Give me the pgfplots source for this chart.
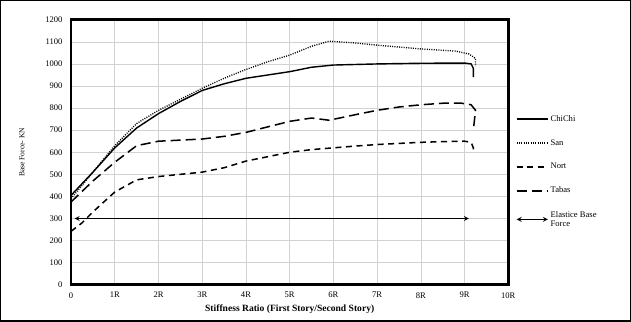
\documentclass[border=0pt]{standalone}
\usepackage{pgfplots}
\pgfplotsset{compat=1.18}
\usepackage{fontspec}
\setmainfont{Liberation Serif}
\begin{document}
\begin{tikzpicture}
\begin{axis}[
  scale only axis, width=434pt, height=263pt,
  xmin=0, xmax=10, ymin=0, ymax=1200,
  xtick={0,1,...,10},
  xticklabels={0,1R,2R,3R,4R,5R,6R,7R,8R,9R,10R},
  ytick={0,100,...,1200},
  /pgf/number format/assume math mode=true,
  /pgf/number format/1000 sep={},
  tick label style={font=\fontsize{8.5}{9}\selectfont},
  xticklabel style={yshift=-4pt},
  yticklabel style={xshift=-5pt},
  major tick length=0pt,
  grid=major, grid style={gray!35, line width=0.7pt},
  axis line style={line width=2pt},
  xlabel={\textbf{Stiffness Ratio (First Story/Second Story)}},
  xlabel style={font=\fontsize{9.5}{10}\selectfont, yshift=0pt},
  ylabel={Base Force- KN},
  ylabel style={font=\fontsize{7.5}{8}\selectfont, yshift=14pt},
  clip=false,
  legend style={at={(1.01,0.655)}, anchor=north west, draw=none, fill=none,
     font=\fontsize{8.5}{9}\selectfont, row sep=12.5pt, cells={anchor=west, align=left}},
  legend image code/.code={\draw[#1] (0pt,0pt) -- (31pt,0pt);},
]
\addplot[black, line width=1.4pt] coordinates {
 (0,405) (0.5,510) (1,620) (1.5,710) (2,775) (2.5,830) (3,880) (3.5,910) (4,935) (4.5,950) (5,965) (5.5,985) (6,995) (7,1000) (8,1003) (9,1004) (9.15,1000) (9.2,980) (9.2,940)};
\addlegendentry{ChiChi}
\addplot[black, line width=1.3pt, dash pattern=on 1pt off 1.3pt] coordinates {
 (0,390) (0.5,510) (1,630) (1.5,730) (2,790) (2.5,840) (3,890) (3.5,935) (4,975) (4.5,1010) (5,1040) (5.5,1080) (5.9,1103) (6.5,1095) (7,1085) (8,1068) (8.8,1058) (9.1,1045) (9.25,1025) (9.25,990)};
\addlegendentry{San}
\addplot[black, line width=1.5pt, dash pattern=on 6pt off 4.5pt] coordinates {
 (0,242) (0.25,280) (0.5,330) (1,420) (1.5,475) (2,490) (2.5,500) (3,510) (3.5,530) (4,560) (4.5,580) (5,600) (5.5,612) (6,620) (6.5,628) (7,635) (7.5,640) (8,645) (8.5,648) (9,650) (9.15,645) (9.2,620) (9.2,600)};
\addlegendentry{Nort}
\addplot[black, line width=1.5pt, dash pattern=on 10pt off 5pt] coordinates {
 (0,375) (0.5,470) (1,555) (1.5,630) (2,650) (2.5,655) (3,660) (3.5,672) (4,690) (4.5,715) (5,740) (5.5,755) (5.9,745) (6.5,770) (7,790) (7.5,805) (8,815) (8.5,822) (8.9,823) (9.15,815) (9.25,790) (9.2,700)};
\addlegendentry{Tabas}
\addplot[black, line width=1.2pt, <->, >=stealth] coordinates {(0.08,300) (9.1,300)};
\addlegendentry{Elastice Base\\Force}
\draw[line width=2.6pt] (rel axis cs:0,0) rectangle (rel axis cs:1,1);
\coordinate (bl) at (rel axis cs:-0.161,-0.137);
\coordinate (tr) at (rel axis cs:1.279,1.072);
\end{axis}
\draw[line width=1.4pt] (bl) rectangle (tr);
\end{tikzpicture}
\end{document}
